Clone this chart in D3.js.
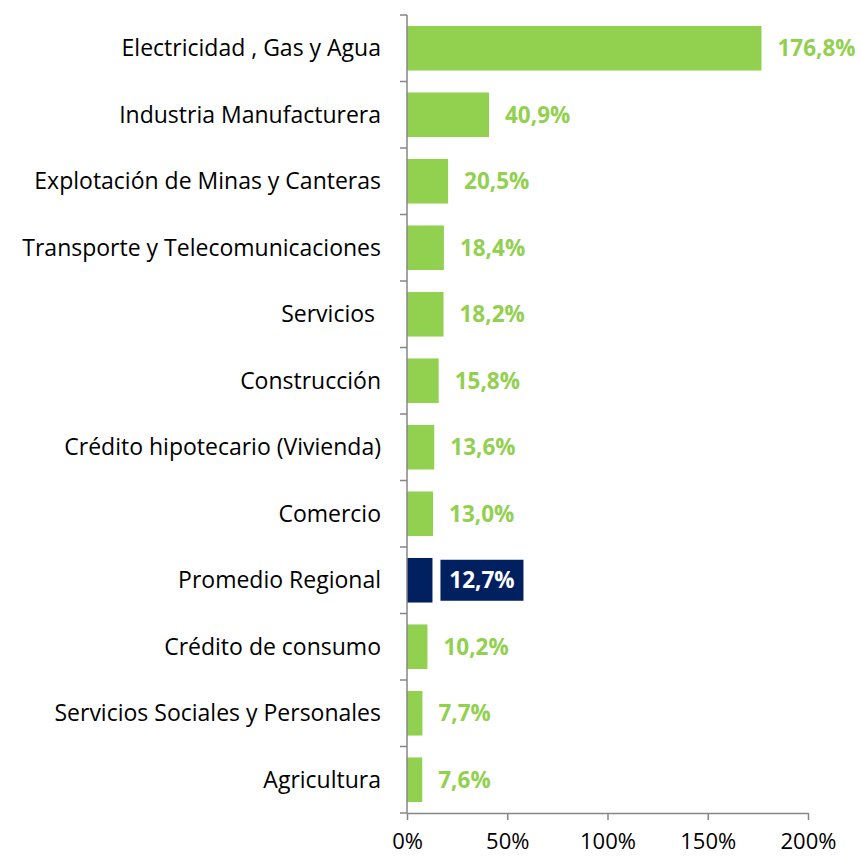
<!DOCTYPE html>
<html><head><meta charset="utf-8">
<script src="https://cdn.jsdelivr.net/npm/d3@7"></script>
<style>body{margin:0;background:#fff}</style>
</head><body>
<svg id="chart" width="861" height="857"></svg>
<script>
const categories = ["Electricidad , Gas y Agua","Industria Manufacturera","Explotación de Minas y Canteras","Transporte y Telecomunicaciones","Servicios ","Construcción","Crédito hipotecario (Vivienda)","Comercio","Promedio Regional","Crédito de consumo","Servicios Sociales y Personales","Agricultura"];
const values = [176.8,40.9,20.5,18.4,18.2,15.8,13.6,13.0,12.7,10.2,7.7,7.6];
const highlight = ["Promedio Regional"];
const xTicks = [0,50,100,150,200];

(function(){
const svg = d3.select("#chart");
const mLeft = 407, mRight = 808, mTop = 15, mBottom = 813;
const x = d3.scaleLinear().domain([0,200]).range([mLeft,mRight]);
const y = d3.scaleBand().domain(categories).range([mTop,mBottom]).paddingInner(0.33).paddingOuter(0.165);
const font = "'Open Sans', 'Liberation Sans', Arial, sans-serif";
const green = "#92D050", navy = "#002060", axisCol = "#868686";
const data = categories.map((c,i)=>({c, v: values[i], hi: highlight.includes(c)}));
const fmt = v => v.toFixed(1).replace(".", ",") + "%";

svg.selectAll("rect.bar").data(data).enter().append("rect")
  .attr("x", x(0)).attr("y", d=>y(d.c)).attr("width", d=>x(d.v)-x(0)).attr("height", y.bandwidth())
  .attr("fill", d=>d.hi?navy:green);

const xAxis = svg.append("g").attr("transform",`translate(0,${mBottom})`)
  .call(d3.axisBottom(x).tickValues(xTicks).tickSize(7).tickSizeOuter(0).tickFormat(d=>d+"%"));
xAxis.select(".domain").attr("stroke",axisCol).attr("stroke-width",1.5);
xAxis.selectAll(".tick line").attr("stroke",axisCol).attr("stroke-width",1.5);
xAxis.selectAll("text").attr("font-family",font).attr("font-size",22).attr("fill","#000").attr("y",0).attr("dy","1.62em");

const yAxisG = svg.append("g");
yAxisG.append("line").attr("x1",mLeft).attr("x2",mLeft).attr("y1",mTop).attr("y2",mBottom).attr("stroke",axisCol).attr("stroke-width",1.5);
const step = y.step();
const boundaries = d3.range(categories.length+1).map(i=>mTop + i*step);
yAxisG.selectAll("line.t").data(boundaries).enter().append("line")
  .attr("x1",mLeft-7).attr("x2",mLeft).attr("y1",d=>d).attr("y2",d=>d).attr("stroke",axisCol).attr("stroke-width",1.5);

svg.selectAll("text.cat").data(data).enter().append("text")
  .attr("x", 381).attr("y", d=>y(d.c)+y.bandwidth()/2).attr("dy","0.35em")
  .attr("text-anchor","end").attr("font-family",font).attr("font-size",23).attr("fill","#000")
  .style("white-space","pre")
  .text(d=>d.c);

const lbl = svg.selectAll("g.lbl").data(data).enter().append("g");
lbl.each(function(d){
  const g = d3.select(this);
  const cy = y(d.c)+y.bandwidth()/2;
  if (d.hi) {
    const bx = x(d.v) + 8;
    g.append("rect").attr("x", bx).attr("y", cy-20.5).attr("width", 83).attr("height", 41).attr("fill", navy);
    g.append("text").attr("x", bx+41.5).attr("y", cy).attr("dy","0.36em").attr("text-anchor","middle")
      .attr("font-family",font).attr("font-weight","bold").attr("font-size",22.5).attr("fill","#fff").text(fmt(d.v));
  } else {
    g.append("text").attr("x", x(d.v)+16).attr("y", cy).attr("dy","0.36em")
      .attr("font-family",font).attr("font-weight","bold").attr("font-size",22.5).attr("fill",green).text(fmt(d.v));
  }
});
})();
</script>
</body></html>
